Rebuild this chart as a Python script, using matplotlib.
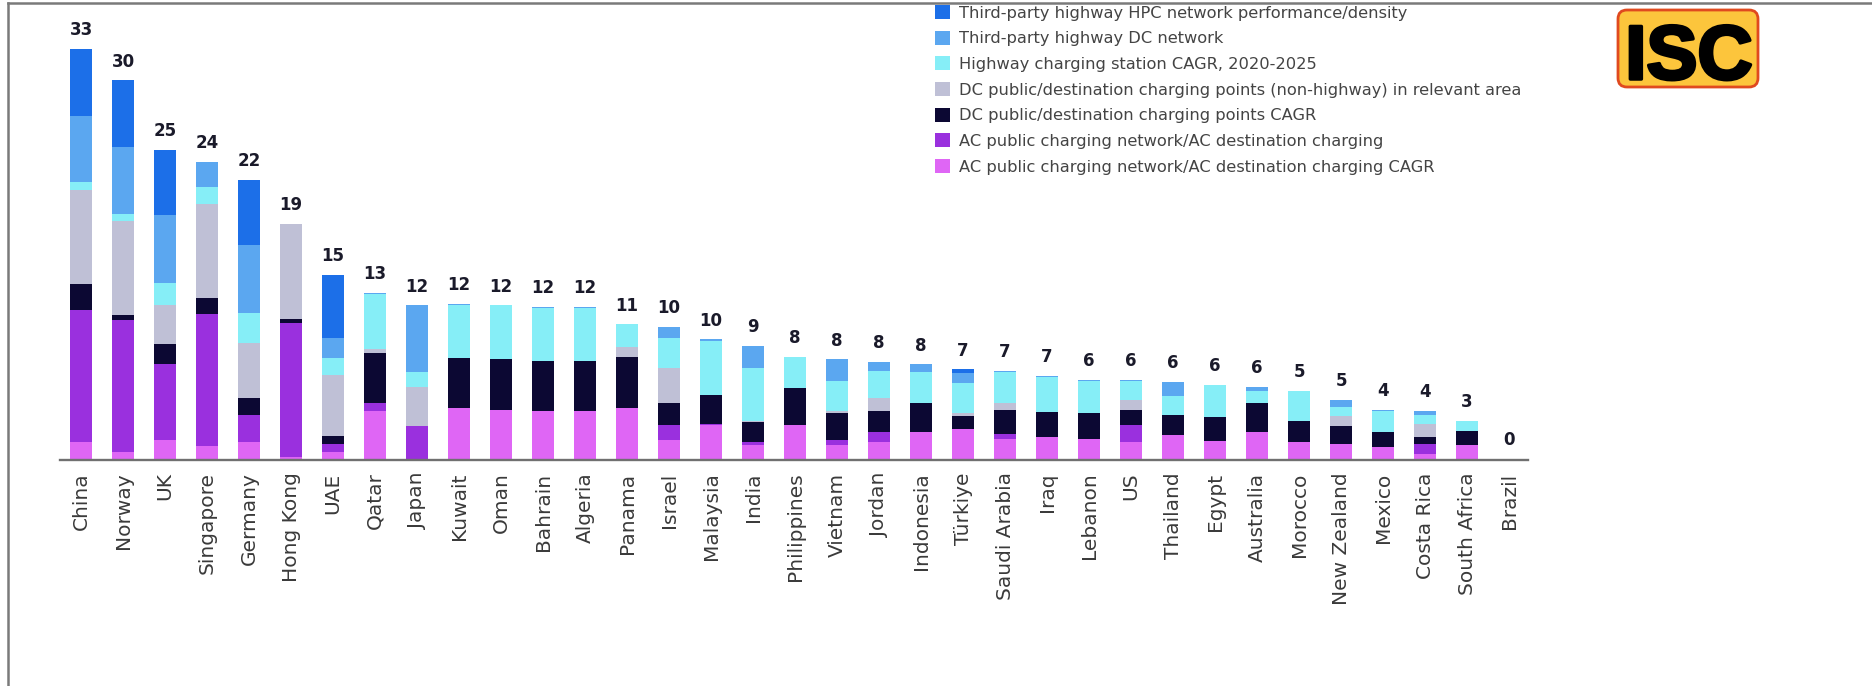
import matplotlib.pyplot as plt
import numpy as np
from matplotlib.lines import Line2D
from matplotlib.patches import FancyBboxPatch
from matplotlib.transforms import IdentityTransform
import matplotlib.patheffects as pe

# Countries and the score printed above each bar
countries = ['China', 'Norway', 'UK', 'Singapore', 'Germany', 'Hong Kong', 'UAE', 'Qatar',
             'Japan', 'Kuwait', 'Oman', 'Bahrain', 'Algeria', 'Panama', 'Israel', 'Malaysia',
             'India', 'Philippines', 'Vietnam', 'Jordan', 'Indonesia', 'Türkiye', 'Saudi Arabia',
             'Iraq', 'Lebanon', 'US', 'Thailand', 'Egypt', 'Australia', 'Morocco', 'New Zealand',
             'Mexico', 'Costa Rica', 'South Africa', 'Brazil']
scores = [33, 30, 25, 24, 22, 19, 15, 13, 12, 12, 12, 12, 12, 11, 10, 10, 9, 8, 8, 8, 8,
          7, 7, 7, 6, 6, 6, 6, 6, 5, 5, 4, 4, 3, 0]

# Stack segments, bottom to top
ac_cagr = [1.4, 0.6, 1.6, 1.1, 1.4, 0.2, 0.6, 3.9, 0.0, 4.1, 4.0, 3.9, 3.9, 4.1, 1.6, 2.8,
           1.2, 2.8, 1.2, 1.4, 2.2, 2.5, 1.7, 1.8, 1.7, 1.4, 2.0, 1.5, 2.2, 1.4, 1.3,
           1.0, 0.5, 1.2, 0.0]
ac_public = [10.5, 10.5, 6.0, 10.5, 2.2, 10.7, 0.7, 0.6, 2.7, 0.0, 0.0, 0.0, 0.0, 0.0, 1.2, 0.1,
             0.2, 0.0, 0.4, 0.8, 0.0, 0.0, 0.4, 0.0, 0.0, 1.4, 0.0, 0.0, 0.0, 0.0, 0.0,
             0.0, 0.8, 0.0, 0.0]
dc_cagr = [2.1, 0.4, 1.6, 1.3, 1.3, 0.3, 0.6, 4.0, 0.0, 4.0, 4.0, 4.0, 4.0, 4.1, 1.7, 2.3,
           1.6, 2.9, 2.1, 1.7, 2.3, 1.0, 1.9, 2.0, 2.0, 1.2, 1.6, 1.9, 2.3, 1.7, 1.4,
           1.2, 0.5, 1.1, 0.0]
dc_public = [7.5, 7.5, 3.1, 7.5, 4.4, 7.6, 4.9, 0.3, 3.1, 0.0, 0.0, 0.0, 0.0, 0.8, 2.8, 0.0,
             0.1, 0.0, 0.2, 1.0, 0.0, 0.2, 0.5, 0.0, 0.0, 0.8, 0.0, 0.0, 0.0, 0.0, 0.8,
             0.0, 1.1, 0.0, 0.0]
hw_cagr = [0.6, 0.6, 1.8, 1.3, 2.4, 0.0, 1.3, 4.4, 1.2, 4.2, 4.3, 4.2, 4.2, 1.8, 2.4, 4.3,
           4.2, 2.5, 2.4, 2.2, 2.5, 2.4, 2.5, 2.8, 2.6, 1.5, 1.5, 2.6, 1.0, 2.4, 0.7,
           1.7, 0.7, 0.8, 0.0]
tp_dc = [5.3, 5.3, 5.4, 2.0, 5.4, 0.0, 1.6, 0.1, 5.3, 0.1, 0.0, 0.1, 0.1, 0.0, 0.9, 0.1,
         1.8, 0.0, 1.7, 0.7, 0.6, 0.8, 0.1, 0.1, 0.1, 0.1, 1.1, 0.0, 0.3, 0.0, 0.6,
         0.1, 0.3, 0.0, 0.1]
tp_hpc = [5.3, 5.3, 5.2, 0.0, 5.2, 0.0, 5.0, 0.0, 0.0, 0.0, 0.0, 0.0, 0.0, 0.0, 0.0, 0.0,
          0.0, 0.0, 0.0, 0.0, 0.0, 0.3, 0.0, 0.0, 0.0, 0.0, 0.0, 0.0, 0.0, 0.0, 0.0,
          0.0, 0.0, 0.0, 0.0]

series = [
    (ac_cagr, '#df66f5', 'AC public charging network/AC destination charging CAGR'),
    (ac_public, '#9a30de', 'AC public charging network/AC destination charging'),
    (dc_cagr, '#0c0833', 'DC public/destination charging points CAGR'),
    (dc_public, '#bfc0d6', 'DC public/destination charging points (non-highway) in relevant area'),
    (hw_cagr, '#86eef7', 'Highway charging station CAGR, 2020-2025'),
    (tp_dc, '#5ba7f0', 'Third-party highway DC network'),
    (tp_hpc, '#1c6fe8', 'Third-party highway HPC network performance/density'),
]

W, H = 1872, 686
fig = plt.figure(figsize=(W / 100, H / 100), dpi=100)
ax = fig.add_axes([60 / W, 226 / H, 1468 / W, 35 * 12.57 / H])

x = np.arange(len(countries))
bottom = np.zeros(len(countries))
handles = []
for vals, color, label in series:
    b = ax.bar(x, vals, width=0.54, bottom=bottom, color=color, label=label, linewidth=0)
    handles.append(b)
    bottom += np.array(vals)

# score labels above the bars
for xi, top, s in zip(x, bottom, scores):
    ax.annotate(str(s), (xi, top), xytext=(0, 7), textcoords='offset points',
                ha='center', va='bottom', fontsize=12, fontweight='bold', color='#1a1a2a')

ax.set_xlim(-0.5, len(countries) - 0.55)
ax.set_ylim(0, 35)
ax.set_xticks(x)
ax.set_xticklabels(countries, rotation=90, fontsize=14.5, color='#3a3a3a')
ax.tick_params(axis='x', length=0, pad=9)
ax.set_yticks([])
for side in ['top', 'right', 'left']:
    ax.spines[side].set_visible(False)
ax.spines['bottom'].set_color('#707070')
ax.spines['bottom'].set_linewidth(1.7)

fig.legend(handles[::-1], [h.get_label() for h in handles[::-1]],
           loc='upper left', bbox_to_anchor=(935 / W, 1 - 5 / H), frameon=False,
           fontsize=11.7, labelcolor='#444444', handlelength=0.95, handleheight=0.95,
           handletextpad=0.5, labelspacing=0.62, borderpad=0, borderaxespad=0)

# page frame (top and left edges)
fig.add_artist(Line2D([8 / W, 8 / W], [0, 1 - 3 / H], transform=fig.transFigure,
                      color='#7a7a7a', lw=1.8))
fig.add_artist(Line2D([8 / W, 1], [1 - 3 / H, 1 - 3 / H], transform=fig.transFigure,
                      color='#7a7a7a', lw=1.8))

# ISC logo
fig.add_artist(FancyBboxPatch((1618, H - 87), 140, 77, boxstyle='round,pad=0,rounding_size=9',
                              facecolor='#fcc53c', edgecolor='#e04a1f', lw=2,
                              transform=IdentityTransform()))
fig.text(1689 / W, (H - 79) / H, 'ISC', ha='center', va='baseline', fontsize=55,
         fontweight='bold', family='Liberation Sans', color='black',
         path_effects=[pe.withStroke(linewidth=2.5, foreground='black')])

fig.savefig('out.png', dpi=100)
